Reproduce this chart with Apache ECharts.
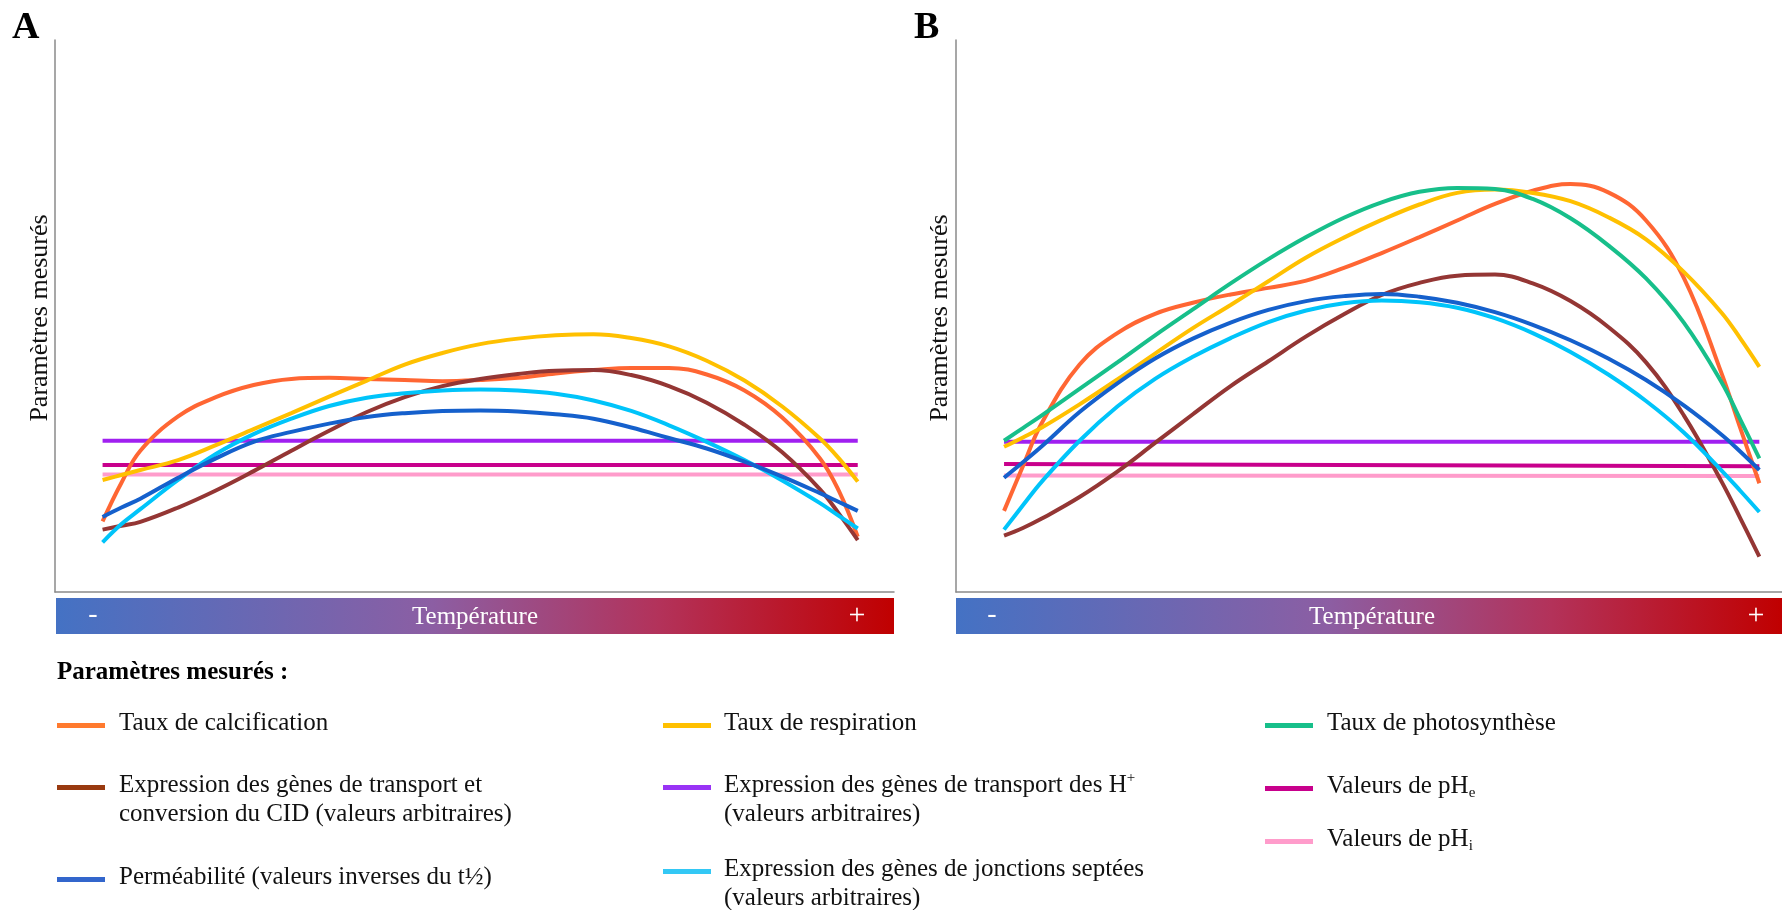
<!DOCTYPE html>
<html>
<head>
<meta charset="utf-8">
<script src="https://cdn.jsdelivr.net/npm/echarts@6/dist/echarts.min.js"></script>
<style>
html,body{margin:0;padding:0;background:#ffffff;}
#chart{width:1782px;height:910px;}
</style>
</head>
<body>
<div id="chart"></div>
<script>
// ---------- DATA (arbitrary units 0-100) ----------
const temperature = [0, 2.5, 5, 10, 15, 20, 25, 30, 35, 40, 45, 50, 55, 60, 65, 70, 75, 80, 85, 90, 95, 97.5, 100];

// Panel A
const calcA  = [12.8, 19.8, 25.6, 31.8, 35.3, 37.5, 38.6, 38.8, 38.6, 38.4, 38.2, 38.4, 38.8, 39.6, 40.2, 40.6, 40.6, 39.4, 36.5, 31.6, 24.2, 18.3, 10.0];
const respA  = [20.3, 21.2, 22.1, 23.9, 26.6, 29.5, 32.4, 35.4, 38.3, 41.2, 43.3, 44.9, 45.9, 46.5, 46.7, 46.0, 44.5, 41.9, 38.3, 33.6, 27.8, 24.2, 20.0];
const cidA   = [11.3, 12.0, 12.7, 15.3, 18.4, 21.9, 25.6, 29.2, 32.6, 35.3, 37.3, 38.6, 39.5, 40.1, 40.2, 39.3, 37.3, 34.3, 30.3, 25.3, 18.6, 14.2, 9.4];
const permA  = [13.6, 15.3, 16.9, 20.7, 24.2, 27.2, 29.0, 30.5, 31.7, 32.4, 32.8, 32.9, 32.7, 32.2, 31.4, 29.8, 27.9, 26.0, 23.6, 20.9, 17.9, 16.3, 14.7];
const septA  = [9.0, 12.3, 15.0, 20.3, 25.0, 28.6, 31.4, 33.7, 35.2, 36.0, 36.5, 36.7, 36.5, 35.9, 34.7, 32.8, 30.2, 27.2, 23.9, 20.2, 16.1, 13.8, 11.5];
const flatX  = [0, 100];
const hplusA = [27.4, 27.4];
const pheA   = [23.0, 23.0];
const phiA   = [21.3, 21.3];

// Panel B
const calcB  = [14.7, 22.8, 30.6, 41.2, 46.9, 50.4, 52.4, 53.9, 55.1, 56.4, 58.7, 61.4, 64.3, 67.3, 70.3, 72.7, 73.9, 72.4, 67.3, 56.9, 39.6, 29.6, 19.7];
const respB  = [26.3, 28.0, 29.8, 34.0, 38.5, 43.2, 47.8, 52.0, 56.3, 60.6, 64.2, 67.4, 70.2, 72.3, 72.9, 72.3, 70.8, 67.9, 63.9, 58.0, 50.6, 45.9, 40.8];
const photoB = [27.4, 29.7, 32.0, 36.8, 41.6, 46.5, 51.2, 55.9, 60.3, 64.3, 67.8, 70.6, 72.5, 73.2, 73.0, 71.2, 67.7, 62.8, 56.8, 48.8, 38.0, 31.2, 24.2];
const cidB   = [10.2, 11.6, 13.3, 17.2, 21.8, 27.0, 32.2, 37.3, 41.8, 46.3, 50.3, 53.8, 56.0, 57.3, 57.5, 55.9, 52.7, 48.0, 41.6, 32.0, 20.0, 13.3, 6.4];
const permB  = [20.7, 23.5, 26.4, 32.6, 37.8, 42.3, 45.9, 48.8, 51.1, 52.7, 53.6, 54.0, 53.5, 52.4, 50.7, 48.4, 45.6, 42.3, 38.4, 33.8, 28.5, 25.4, 22.1];
const septB  = [11.3, 15.7, 20.0, 27.4, 33.6, 38.6, 42.6, 46.0, 48.9, 51.0, 52.3, 52.8, 52.5, 51.5, 49.6, 46.9, 43.5, 39.4, 34.6, 28.9, 22.0, 18.3, 14.5];
const hplusB = [27.2, 27.2];
const pheB   = [23.2, 22.8];
const phiB   = [21.1, 21.0];

// Texts
const panelLabels = ['A', 'B'];
const yTitle = 'Paramètres mesurés';
const xTitle = 'Température';
const legendTitle = 'Paramètres mesurés :';
const names = {
  calc: 'Taux de calcification',
  resp: 'Taux de respiration',
  photo: 'Taux de photosynthèse',
  cid: 'Expression des gènes de transport et\nconversion du CID (valeurs arbitraires)',
  hplus: 'Expression des gènes de transport des H+\n(valeurs arbitraires)',
  phe: 'Valeurs de pHe',
  perm: 'Perméabilité (valeurs inverses du t½)',
  sept: 'Expression des gènes de jonctions septées\n(valeurs arbitraires)',
  phi: 'Valeurs de pHi'
};

// ---------- STYLE ----------
const FONT = "'Liberation Serif', 'Times New Roman', serif";
const colors = {
  calc: '#FF6633', resp: '#FFC000', photo: '#17BF8A', cid: '#943634',
  hplus: '#A020F0', phe: '#C8008C', perm: '#1560CC', sept: '#00C4FA', phi: '#FF9CCB'
};
const swatch = {
  calc: '#FF7A2E', resp: '#FFC000', photo: '#17BF8A', cid: '#993A10',
  hplus: '#9933F5', phe: '#C8008C', perm: '#3366CC', sept: '#33C8F5', phi: '#FF9CCB'
};

function zip(xs, ys) { return xs.map((x, i) => [x, ys[i]]); }

function curve(key, vals, idx) {
  return { name: key + idx, type: 'line', xAxisIndex: idx, yAxisIndex: idx,
    data: zip(temperature, vals), smooth: 0.4, showSymbol: false, symbol: 'none',
    lineStyle: { color: colors[key], width: 4 }, silent: true, z: 3 };
}
function flat(key, vals, idx) {
  return { name: key + idx, type: 'line', xAxisIndex: idx, yAxisIndex: idx,
    data: zip(flatX, vals), showSymbol: false, symbol: 'none',
    lineStyle: { color: colors[key], width: 4 }, silent: true, z: 2 };
}

const axisLineStyle = { show: true, onZero: false, lineStyle: { color: '#8a8a8a', width: 1.5 } };
function xAx(idx, min, max) {
  return { type: 'value', gridIndex: idx, min: min, max: max, axisLine: axisLineStyle,
    axisTick: { show: false }, axisLabel: { show: false }, splitLine: { show: false } };
}
function yAx(idx) {
  return { type: 'value', gridIndex: idx, min: 0, max: 100, axisLine: axisLineStyle,
    axisTick: { show: false }, axisLabel: { show: false }, splitLine: { show: false } };
}

const gradient = { type: 'linear', x: 0, y: 0, x2: 1, y2: 0, colorStops: [
  { offset: 0, color: '#4472C4' }, { offset: 0.45, color: '#8C5EA3' },
  { offset: 0.72, color: '#B3325A' }, { offset: 1, color: '#C00000' } ] };

const graphics = [];
// panel labels
graphics.push({ type: 'text', x: 12, y: 47, style: { text: panelLabels[0], font: 'bold 38px ' + FONT, fill: '#000', verticalAlign: 'bottom' } });
graphics.push({ type: 'text', x: 914, y: 47, style: { text: panelLabels[1], font: 'bold 38px ' + FONT, fill: '#000', verticalAlign: 'bottom' } });
// y titles
[[40, 318], [940, 318]].forEach(p => graphics.push({ type: 'text', x: p[0], y: p[1], rotation: Math.PI / 2,
  style: { text: yTitle, font: '26px ' + FONT, fill: '#111', align: 'center', verticalAlign: 'middle' } }));
// temperature bars
[[56, 838, 93, 475, 857], [956, 826, 992, 1372, 1756]].forEach(b => {
  graphics.push({ type: 'rect', shape: { x: b[0], y: 598, width: b[1], height: 36 }, style: { fill: gradient } });
  graphics.push({ type: 'text', x: b[3], y: 617, style: { text: xTitle, font: '25px ' + FONT, fill: '#fff', align: 'center', verticalAlign: 'middle' } });
  graphics.push({ type: 'text', x: b[2], y: 615, style: { text: '-', font: '28px ' + FONT, fill: '#fff', align: 'center', verticalAlign: 'middle' } });
  graphics.push({ type: 'text', x: b[4], y: 616, style: { text: '+', font: '30px ' + FONT, fill: '#fff', align: 'center', verticalAlign: 'middle' } });
});
// legend
graphics.push({ type: 'text', x: 57, y: 673, style: { text: legendTitle, font: 'bold 25px ' + FONT, fill: '#000', verticalAlign: 'middle' } });

const LH = 29;
const richStyles = {
  n: { fontSize: 25, fontFamily: FONT, fill: '#111', lineHeight: LH, verticalAlign: 'middle' },
  sub: { fontSize: 15, fontFamily: FONT, fill: '#111', lineHeight: 14, verticalAlign: 'bottom' },
  sup: { fontSize: 15, fontFamily: FONT, fill: '#111', lineHeight: 16, verticalAlign: 'top' }
};
function richText(key) {
  const t = names[key];
  if (key === 'hplus') {
    const lines = t.split('\n');
    return '{n|' + lines[0].slice(0, -1) + '}{sup|+}\n{n|' + lines[1] + '}';
  }
  if (key === 'phe' || key === 'phi') {
    return '{n|' + t.slice(0, -1) + '}{sub|' + t.slice(-1) + '}';
  }
  return t.split('\n').map(l => '{n|' + l + '}').join('\n');
}
const legendLayout = [
  ['calc', 57, 119, 723], ['cid', 57, 119, 785], ['perm', 57, 119, 877],
  ['resp', 663, 724, 723], ['hplus', 663, 724, 785], ['sept', 663, 724, 869],
  ['photo', 1265, 1327, 723], ['phe', 1265, 1327, 786], ['phi', 1265, 1327, 839]
];
legendLayout.forEach(l => {
  const [key, sx, tx, cy] = l;
  graphics.push({ type: 'rect', shape: { x: sx, y: cy, width: 48, height: 5 }, style: { fill: swatch[key] } });
  graphics.push({ type: 'text', x: tx, y: cy - LH / 2, style: { text: richText(key), rich: richStyles, verticalAlign: 'top', fill: '#111', font: '25px ' + FONT } });
});

const option = {
  animation: false,
  backgroundColor: '#ffffff',
  grid: [
    { left: 55, top: 40, width: 839, height: 552 },
    { left: 956, top: 40, width: 826, height: 552 }
  ],
  xAxis: [xAx(0, -6.3, 104.8), xAx(1, -6.36, 103.0)],
  yAxis: [yAx(0), yAx(1)],
  series: [
    flat('phi', phiA, 0), flat('phe', pheA, 0), flat('hplus', hplusA, 0),
    curve('calc', calcA, 0), curve('resp', respA, 0), curve('cid', cidA, 0),
    curve('sept', septA, 0), curve('perm', permA, 0),
    flat('phi', phiB, 1), flat('phe', pheB, 1), flat('hplus', hplusB, 1),
    curve('calc', calcB, 1), curve('resp', respB, 1), curve('photo', photoB, 1),
    curve('cid', cidB, 1), curve('sept', septB, 1), curve('perm', permB, 1)
  ],
  graphic: { elements: graphics }
};

const chart = echarts.init(document.getElementById('chart'), null, { renderer: 'canvas' });
chart.setOption(option);
</script>
</body>
</html>
